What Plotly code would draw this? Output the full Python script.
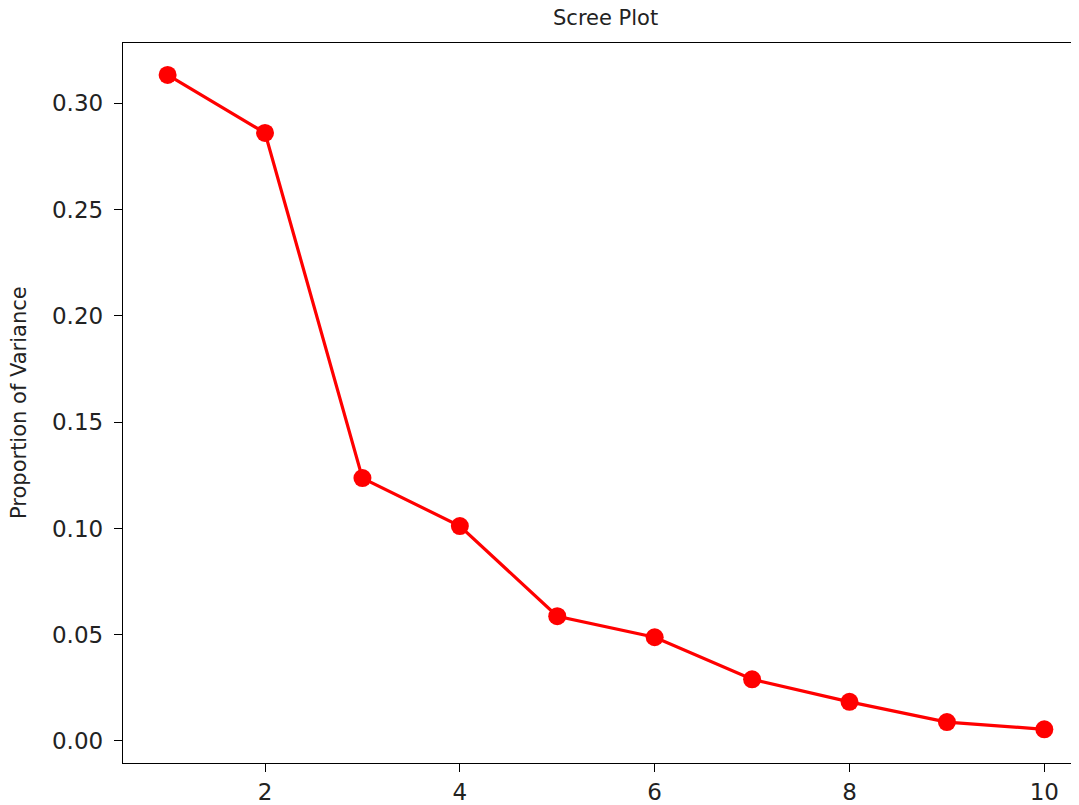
import plotly.graph_objects as go

components = [1, 2, 3, 4, 5, 6, 7, 8, 9, 10]
variance = [0.3134, 0.2861, 0.1237, 0.1011, 0.0587, 0.0488, 0.0290, 0.0184, 0.0089, 0.0055]
x_ticks = [2, 4, 6, 8, 10]
y_ticks = [0.00, 0.05, 0.10, 0.15, 0.20, 0.25, 0.30]

# page body has an 8px margin in the browser
OFF = 8
W, H = 1079 - OFF, 805 - OFF
L, R, T, B = 123 - OFF, 0, 43 - OFF, 42
PW, PH = W - L - R, H - T - B

fig = go.Figure()
fig.add_trace(go.Scatter(
    x=components, y=variance, mode="lines+markers",
    line=dict(color="red", width=3.2),
    marker=dict(color="red", size=18),
    showlegend=False,
))

font = "DejaVu Sans"
fig.update_layout(
    width=W, height=H,
    margin=dict(l=L, r=R, t=T, b=B, pad=0, autoexpand=False),
    plot_bgcolor="white", paper_bgcolor="white",
    font=dict(family=font, color="#222222"),
    xaxis=dict(
        range=[0.542, 10.356], tickvals=x_ticks, ticktext=[str(v) for v in x_ticks],
        showgrid=False, zeroline=False, showline=True, linecolor="black", linewidth=1.4,
        mirror=True, ticks="outside", ticklen=8, tickwidth=1.4, tickcolor="black",
        ticklabelstandoff=0, automargin=False,
        tickfont=dict(size=23, family=font, color="#222222"),
    ),
    yaxis=dict(
        range=[-0.01036, 0.3284], tickvals=y_ticks, ticktext=[f"{v:.2f}" for v in y_ticks],
        showgrid=False, zeroline=False, showline=True, linecolor="black", linewidth=1.4,
        mirror=False, ticks="outside", ticklen=8, tickwidth=1.4, tickcolor="black",
        ticklabelstandoff=6, automargin=False,
        tickfont=dict(size=23, family=font, color="#222222"),
    ),
    annotations=[
        dict(text="Scree Plot", xref="paper", yref="paper",
             x=(605.5 - 123) / PW, y=1 + (43 - 18) / PH,
             xanchor="center", yanchor="middle", showarrow=False,
             font=dict(size=21, family=font, color="#222222")),
        dict(text="Proportion of Variance", xref="paper", yref="paper",
             x=(19 - 123) / PW, y=1 - (403 - 43) / PH, textangle=-90,
             xanchor="center", yanchor="middle", showarrow=False,
             font=dict(size=21, family=font, color="#222222")),
    ],
)

fig.write_html("out.html")
